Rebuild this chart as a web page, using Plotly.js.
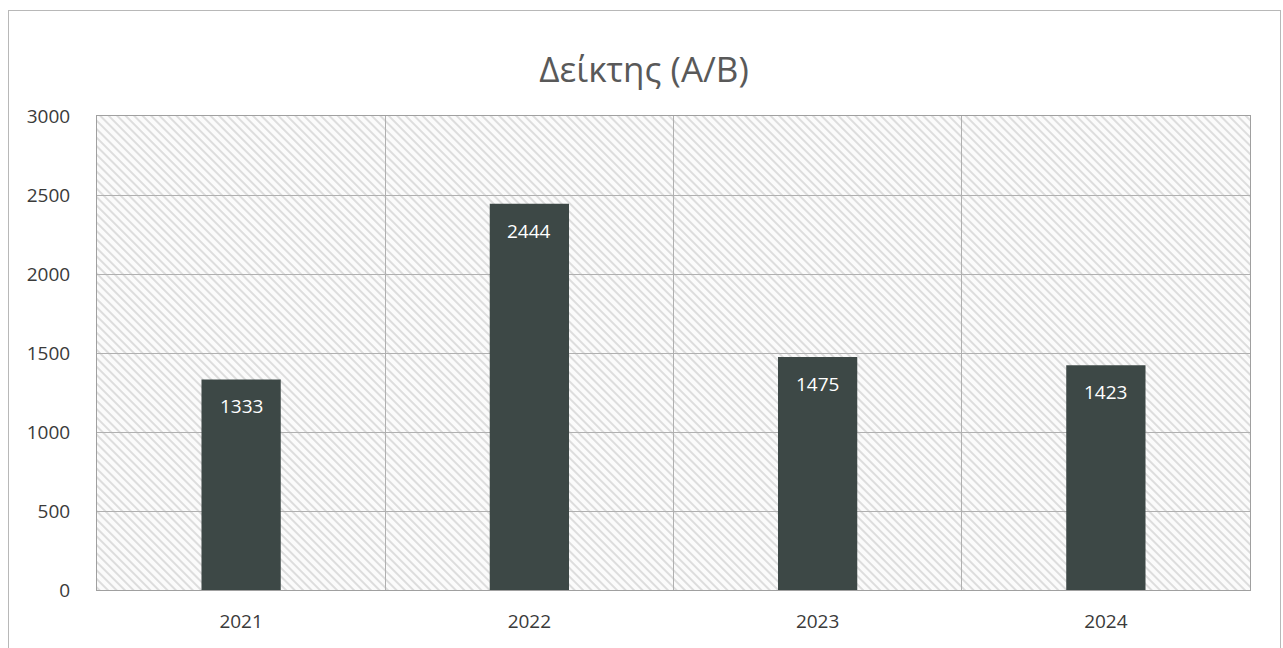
<!DOCTYPE html>
<html>
<head>
<meta charset="utf-8">
<script src="https://cdn.plot.ly/plotly-3.0.1.min.js"></script>
<style>
  html, body { margin: 0; padding: 0; background: #fff; }
  #wrap { position: relative; width: 1283px; height: 648px; overflow: hidden; }
  #chart { width: 1283px; height: 648px; }
  #frame { position: absolute; left: 8px; top: 10px; width: 1271px; height: 660px;
           border: 1px solid #b8b8b8; pointer-events: none; }
</style>
</head>
<body>
<div id="wrap">
  <div id="chart"></div>
  <div id="frame"></div>
</div>
<script>
const chartTitle = "Δείκτης (Α/Β)";
const categories = ["2021", "2022", "2023", "2024"];
const values = [1333, 2444, 1475, 1423];
const yTicks = [0, 500, 1000, 1500, 2000, 2500, 3000];

const positions = categories.map((c, i) => i);
const FONT = "Open Sans, sans-serif";

const trace = {
  type: "bar",
  x: positions,
  y: values,
  width: 0.275,
  marker: { color: "#3d4846", line: { width: 0 } },
  hoverinfo: "skip"
};

const labels = values.map((v, i) => ({
  x: positions[i], y: v, xref: "x", yref: "y",
  text: String(v), showarrow: false,
  yanchor: "middle", yshift: -27,
  font: { family: FONT, size: 19, color: "#ffffff" }
}));

const layout = {
  width: 1283,
  height: 648,
  margin: { l: 97, r: 33, t: 116, b: 58 },
  paper_bgcolor: "#ffffff",
  plot_bgcolor: "#f4f4f4",
  showlegend: false,
  title: {
    text: chartTitle,
    font: { family: FONT, size: 35, color: "#595959" },
    x: 0.502, xanchor: "center",
    y: 0.893, yanchor: "middle"
  },
  annotations: labels,
  xaxis: {
    type: "linear",
    range: [-0.5, categories.length - 0.5],
    tickvals: positions,
    ticktext: categories,
    showgrid: false,
    zeroline: false,
    showline: true, mirror: true, linecolor: "#a0a0a0", linewidth: 1,
    ticks: "",
    ticklabelstandoff: 14,
    tickfont: { family: FONT, size: 19, color: "#3a3a3a" },
    minor: { tick0: 0.5, dtick: 1, showgrid: true, gridcolor: "#b0b0b0", gridwidth: 1, ticks: "" },
    fixedrange: true
  },
  yaxis: {
    range: [0, 3000],
    tickvals: yTicks,
    ticktext: yTicks.map(String),
    showgrid: true, gridcolor: "#b0b0b0", gridwidth: 1,
    zeroline: false,
    showline: true, mirror: true, linecolor: "#a0a0a0", linewidth: 1,
    ticks: "",
    ticklabelstandoff: 22,
    tickfont: { family: FONT, size: 19, color: "#3a3a3a" },
    fixedrange: true
  }
};

Plotly.newPlot("chart", [trace], layout, { staticPlot: true, displayModeBar: false }).then(gd => {
  const svgNS = "http://www.w3.org/2000/svg";
  const mainSvg = gd.querySelector("svg.main-svg");
  let defs = mainSvg.querySelector("defs");
  if (!defs) { defs = document.createElementNS(svgNS, "defs"); mainSvg.insertBefore(defs, mainSvg.firstChild); }
  const pat = document.createElementNS(svgNS, "pattern");
  pat.setAttribute("id", "hatchBg");
  pat.setAttribute("patternUnits", "userSpaceOnUse");
  pat.setAttribute("width", "6");
  pat.setAttribute("height", "6");
  pat.setAttribute("patternTransform", "rotate(-45)");
  const bgRect = document.createElementNS(svgNS, "rect");
  bgRect.setAttribute("width", "6"); bgRect.setAttribute("height", "6");
  bgRect.setAttribute("fill", "#fbfbfb");
  const ln = document.createElementNS(svgNS, "line");
  ln.setAttribute("x1", "1"); ln.setAttribute("y1", "0");
  ln.setAttribute("x2", "1"); ln.setAttribute("y2", "6");
  ln.setAttribute("stroke", "#dadada"); ln.setAttribute("stroke-width", "1.8");
  pat.appendChild(bgRect); pat.appendChild(ln);
  defs.appendChild(pat);
  gd.querySelectorAll("rect.bg").forEach(r => {
    r.style.fill = "url(#hatchBg)";
  });
});
</script>
</body>
</html>
